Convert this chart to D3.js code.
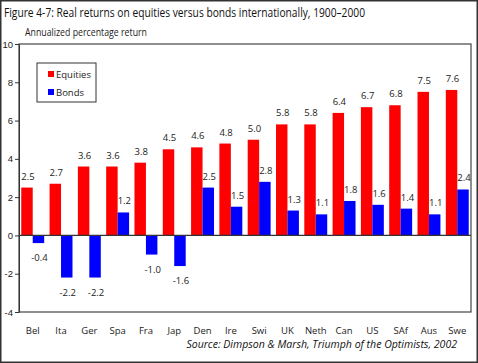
<!DOCTYPE html>
<html>
<head>
<meta charset="utf-8">
<script src="https://cdn.jsdelivr.net/npm/d3@7"></script>
<style>
    body { margin: 0; background: #fff; }
    svg { display: block; font-family: 'Open Sans', sans-serif; }
    .tickY text, .catLabel, .valLabel { fill: #222; }
</style>
</head>
<body>
<svg id="chart"></svg>
<script>
let countries = ['Bel', 'Ita', 'Ger', 'Spa', 'Fra', 'Jap', 'Den', 'Ire', 'Swi', 'UK', 'Neth', 'Can', 'US', 'SAf', 'Aus', 'Swe'];
let equities = [2.5, 2.7, 3.6, 3.6, 3.8, 4.5, 4.6, 4.8, 5.0, 5.8, 5.8, 6.4, 6.7, 6.8, 7.5, 7.6];
let bonds = [-0.4, -2.2, -2.2, 1.2, -1.0, -1.6, 2.5, 1.5, 2.8, 1.3, 1.1, 1.8, 1.6, 1.4, 1.1, 2.4];
let series = ['Equities', 'Bonds'];
let colors = ['#ff0000', '#0000ff'];
let yTicks = [-4, -2, 0, 2, 4, 6, 8, 10];

let returnsChart = function(){

    this._size = {w: 478, h: 363};
    this._margin = {l: 19, r: 7, t: 44, b: 51};
    let canvas = null;

    // shrink a text's font until it spans the wanted width
    let fitText = function(sel, width){
        let fs = parseFloat(sel.style('font-size'));
        let len = sel.node().getComputedTextLength();
        sel.style('font-size', (fs * width / len).toFixed(2) + 'px');
    }

    this.draw = function(){
        let svg = d3.select('#chart')
            .attr('width', this._size.w)
            .attr('height', this._size.h);

        // outer frame
        svg.append('rect')
            .attr('x', 0.75).attr('y', 0.75)
            .attr('width', this._size.w - 1.5).attr('height', this._size.h - 1.5)
            .attr('fill', 'none').attr('stroke', '#333').attr('stroke-width', 1.5);

        // condensed look: squeeze the glyphs into the reference width
        svg.append('text')
            .attr('x', 4).attr('y', 17)
            .style('font-size', '13px')
            .attr('textLength', 361)
            .attr('lengthAdjust', 'spacingAndGlyphs')
            .attr('fill', '#111')
            .text('Figure 4-7: Real returns on equities versus bonds internationally, 1900\u20132000');

        svg.append('text')
            .attr('x', 25).attr('y', 36)
            .style('font-size', '10.5px')
            .attr('textLength', 122)
            .attr('lengthAdjust', 'spacingAndGlyphs')
            .attr('fill', '#222')
            .text('Annualized percentage return');

        let w = this._size.w - this._margin.l - this._margin.r;
        let h = this._size.h - this._margin.t - this._margin.b;

        canvas = svg.append('g')
            .attr('transform', `translate(${this._margin.l}, ${this._margin.t})`);

        let xScale = d3.scaleBand()
            .domain(countries)
            .range([0, w])
            .paddingInner(0.19)
            .paddingOuter(0.08);

        let x1 = d3.scaleBand()
            .domain(series)
            .range([0, xScale.bandwidth()]);

        let yScale = d3.scaleLinear()
            .domain([-4, 10])
            .range([h, 0]);

        let rows = countries.map((c, i) => ({c: c, vals: [equities[i], bonds[i]]}));

        let groups = canvas.selectAll('.grp')
            .data(rows)
            .join('g')
            .classed('grp', true)
            .attr('transform', d => `translate(${xScale(d.c)}, 0)`);

        groups.selectAll('rect')
            .data(d => d.vals.map((v, j) => ({s: series[j], v: v, j: j})))
            .join('rect')
            .attr('x', d => x1(d.s))
            .attr('y', d => yScale(Math.max(0, d.v)))
            .attr('width', x1.bandwidth())
            .attr('height', d => Math.abs(yScale(d.v) - yScale(0)))
            .attr('fill', d => colors[d.j]);

        groups.selectAll('.valLabel')
            .data(d => d.vals.map((v, j) => ({s: series[j], v: v, j: j})))
            .join('text')
            .classed('valLabel', true)
            .attr('x', d => x1(d.s) + x1.bandwidth() / 2 + 1)
            .attr('y', d => d.v >= 0 ? yScale(d.v) - 8 : yScale(d.v) + 18)
            .attr('text-anchor', 'middle')
            .style('font-size', '9.5px')
            .text(d => d.v.toFixed(1));

        // zero line
        canvas.append('line')
            .attr('x1', 0).attr('x2', w)
            .attr('y1', yScale(0)).attr('y2', yScale(0))
            .attr('stroke', '#333').attr('stroke-width', 1.2);

        // plot frame
        canvas.append('rect')
            .attr('x', 0).attr('y', 0)
            .attr('width', w).attr('height', h)
            .attr('fill', 'none').attr('stroke', '#444').attr('stroke-width', 1.2);

        let axisY = d3.axisLeft(yScale)
            .tickValues(yTicks)
            .tickFormat(d => String(d))
            .tickSize(4)
            .tickSizeOuter(0)
            .tickPadding(2);

        canvas.append('g')
            .classed('tickY', true)
            .call(axisY)
            .call(g => g.select('.domain').attr('stroke', '#333'))
            .call(g => g.selectAll('line').attr('stroke', '#333'))
            .call(g => g.selectAll('text').style('font-size', '9.5px').attr('font-family', null));

        canvas.selectAll('.catLabel')
            .data(countries)
            .join('text')
            .classed('catLabel', true)
            .attr('x', d => xScale(d) + xScale.bandwidth() / 2)
            .attr('y', h + 22)
            .attr('text-anchor', 'middle')
            .style('font-size', '9.5px')
            .text(d => d);

        this.drawLegend();

        let src = svg.append('text')
            .attr('x', 457).attr('y', 348)
            .attr('text-anchor', 'end')
            .style('font-size', '10px')
            .style('font-style', 'italic')
            .attr('fill', '#111')
            .text('Source: Dimpson & Marsh, Triumph of the Optimists, 2002');
        fitText(src, 271);
    }

    this.drawLegend = function(){
        let lg = canvas.append('g')
            .attr('transform', `translate(${37 - this._margin.l}, ${63 - this._margin.t})`);

        lg.append('rect')
            .attr('width', 59).attr('height', 39)
            .attr('fill', '#fff').attr('stroke', '#333').attr('stroke-width', 1);

        let items = lg.selectAll('.lgItem')
            .data(series)
            .join('g')
            .classed('lgItem', true)
            .attr('transform', (d, i) => `translate(11, ${8 + i * 18})`);

        items.append('rect')
            .attr('width', 6).attr('height', 6)
            .attr('fill', (d, i) => colors[i]);

        items.append('text')
            .attr('x', 8).attr('y', 6.5)
            .style('font-size', '9.5px')
            .attr('fill', '#222')
            .text(d => d);
    }
}

new returnsChart().draw();
</script>
</body>
</html>
